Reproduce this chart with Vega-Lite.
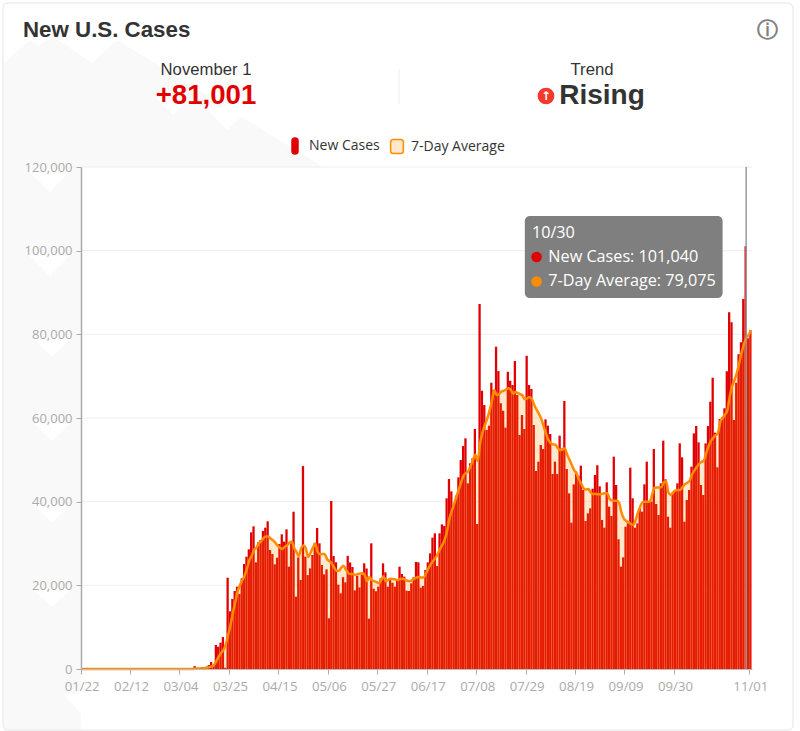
{"$schema":"https://vega.github.io/schema/vega-lite/v6.json","width":671,"height":502,"autosize":{"type":"none"},"padding":{"left":81,"top":167,"right":48,"bottom":62},"background":"white","view":{"stroke":null},"config":{"font":"Open Sans","axisY":{"format":",","labelExpr":"format(datum.value,',')"}},"datasets":{"daily":[
{"date":"01/22","cases":0,"avg":0},{"date":"01/23","cases":0,"avg":0},{"date":"01/24","cases":0,"avg":0},{"date":"01/25","cases":0,"avg":0},{"date":"01/26","cases":0,"avg":0},{"date":"01/27","cases":0,"avg":0},{"date":"01/28","cases":0,"avg":0},{"date":"01/29","cases":0,"avg":0},{"date":"01/30","cases":0,"avg":0},{"date":"01/31","cases":0,"avg":0},
{"date":"02/01","cases":0,"avg":0},{"date":"02/02","cases":0,"avg":0},{"date":"02/03","cases":0,"avg":0},{"date":"02/04","cases":0,"avg":0},{"date":"02/05","cases":0,"avg":0},{"date":"02/06","cases":0,"avg":0},{"date":"02/07","cases":0,"avg":0},{"date":"02/08","cases":0,"avg":0},{"date":"02/09","cases":0,"avg":0},{"date":"02/10","cases":0,"avg":0},{"date":"02/11","cases":0,"avg":0},{"date":"02/12","cases":0,"avg":0},{"date":"02/13","cases":0,"avg":0},{"date":"02/14","cases":0,"avg":0},{"date":"02/15","cases":0,"avg":0},{"date":"02/16","cases":0,"avg":0},{"date":"02/17","cases":0,"avg":0},{"date":"02/18","cases":0,"avg":0},{"date":"02/19","cases":0,"avg":0},{"date":"02/20","cases":0,"avg":0},{"date":"02/21","cases":0,"avg":0},{"date":"02/22","cases":0,"avg":0},{"date":"02/23","cases":0,"avg":0},{"date":"02/24","cases":0,"avg":0},{"date":"02/25","cases":0,"avg":0},{"date":"02/26","cases":0,"avg":0},{"date":"02/27","cases":0,"avg":0},{"date":"02/28","cases":0,"avg":0},{"date":"02/29","cases":0,"avg":0},
{"date":"03/01","cases":0,"avg":0},{"date":"03/02","cases":0,"avg":0},{"date":"03/03","cases":0,"avg":0},{"date":"03/04","cases":0,"avg":0},{"date":"03/05","cases":0,"avg":0},{"date":"03/06","cases":0,"avg":0},{"date":"03/07","cases":0,"avg":0},{"date":"03/08","cases":0,"avg":0},{"date":"03/09","cases":0,"avg":0},{"date":"03/10","cases":700,"avg":100},{"date":"03/11","cases":150,"avg":120},{"date":"03/12","cases":250,"avg":130},{"date":"03/13","cases":400,"avg":150},{"date":"03/14","cases":450,"avg":200},{"date":"03/15","cases":550,"avg":300},{"date":"03/16","cases":950,"avg":450},{"date":"03/17","cases":1670,"avg":600},{"date":"03/18","cases":950,"avg":950},{"date":"03/19","cases":5740,"avg":1900},{"date":"03/20","cases":5340,"avg":2950},{"date":"03/21","cases":6300,"avg":3900},{"date":"03/22","cases":7650,"avg":4500},{"date":"03/23","cases":300,"avg":5900},{"date":"03/24","cases":21830,"avg":8100},{"date":"03/25","cases":13800,"avg":10500},{"date":"03/26","cases":16730,"avg":13400},{"date":"03/27","cases":18650,"avg":15900},{"date":"03/28","cases":19680,"avg":18500},{"date":"03/29","cases":17930,"avg":20000},{"date":"03/30","cases":21670,"avg":21200},{"date":"03/31","cases":25100,"avg":22300},
{"date":"04/01","cases":26850,"avg":24000},{"date":"04/02","cases":28600,"avg":26000},{"date":"04/03","cases":32670,"avg":27000},{"date":"04/04","cases":34100,"avg":28500},{"date":"04/05","cases":25500,"avg":29000},{"date":"04/06","cases":30280,"avg":30000},{"date":"04/07","cases":30840,"avg":30500},{"date":"04/08","cases":32990,"avg":31300},{"date":"04/09","cases":33780,"avg":31700},{"date":"04/10","cases":35300,"avg":31700},{"date":"04/11","cases":28450,"avg":31200},{"date":"04/12","cases":27490,"avg":30800},{"date":"04/13","cases":25020,"avg":30200},{"date":"04/14","cases":26610,"avg":29500},{"date":"04/15","cases":29880,"avg":29000},{"date":"04/16","cases":32190,"avg":28700},{"date":"04/17","cases":30440,"avg":29200},{"date":"04/18","cases":33390,"avg":29500},{"date":"04/19","cases":24460,"avg":30200},{"date":"04/20","cases":30040,"avg":30500},{"date":"04/21","cases":37600,"avg":29000},{"date":"04/22","cases":17290,"avg":28000},{"date":"04/23","cases":26690,"avg":27000},{"date":"04/24","cases":21270,"avg":28800},{"date":"04/25","cases":48530,"avg":29500},{"date":"04/26","cases":26850,"avg":28800},{"date":"04/27","cases":22450,"avg":26800},{"date":"04/28","cases":24060,"avg":27800},{"date":"04/29","cases":27250,"avg":29000},{"date":"04/30","cases":30040,"avg":30000},
{"date":"05/01","cases":33700,"avg":28000},{"date":"05/02","cases":30040,"avg":27500},{"date":"05/03","cases":24860,"avg":27500},{"date":"05/04","cases":22630,"avg":27500},{"date":"05/05","cases":23820,"avg":26300},{"date":"05/06","cases":12110,"avg":25800},{"date":"05/07","cases":40160,"avg":25200},{"date":"05/08","cases":27010,"avg":24300},{"date":"05/09","cases":25500,"avg":23500},{"date":"05/10","cases":20160,"avg":23500},{"date":"05/11","cases":18090,"avg":24200},{"date":"05/12","cases":21950,"avg":24700},{"date":"05/13","cases":20720,"avg":23800},{"date":"05/14","cases":27050,"avg":23000},{"date":"05/15","cases":25460,"avg":22700},{"date":"05/16","cases":24380,"avg":22700},{"date":"05/17","cases":18800,"avg":22500},{"date":"05/18","cases":22270,"avg":22700},{"date":"05/19","cases":19520,"avg":22800},{"date":"05/20","cases":22550,"avg":22900},{"date":"05/21","cases":25260,"avg":22500},{"date":"05/22","cases":24020,"avg":21000},{"date":"05/23","cases":12030,"avg":22000},{"date":"05/24","cases":30040,"avg":21300},{"date":"05/25","cases":19200,"avg":21000},{"date":"05/26","cases":18600,"avg":20800},{"date":"05/27","cases":19700,"avg":20500},{"date":"05/28","cases":21670,"avg":21200},{"date":"05/29","cases":25260,"avg":22200},{"date":"05/30","cases":23110,"avg":21000},{"date":"05/31","cases":19680,"avg":21300},
{"date":"06/01","cases":21270,"avg":21600},{"date":"06/02","cases":20640,"avg":21500},{"date":"06/03","cases":19680,"avg":21400},{"date":"06/04","cases":21110,"avg":21300},{"date":"06/05","cases":24460,"avg":21500},{"date":"06/06","cases":22710,"avg":21600},{"date":"06/07","cases":22070,"avg":21400},{"date":"06/08","cases":18720,"avg":21100},{"date":"06/09","cases":18650,"avg":21000},{"date":"06/10","cases":20480,"avg":21200},{"date":"06/11","cases":21910,"avg":21500},{"date":"06/12","cases":25580,"avg":21900},{"date":"06/13","cases":25500,"avg":22000},{"date":"06/14","cases":19440,"avg":21900},{"date":"06/15","cases":19840,"avg":21900},{"date":"06/16","cases":23660,"avg":22800},{"date":"06/17","cases":25500,"avg":24000},{"date":"06/18","cases":27650,"avg":25000},{"date":"06/19","cases":31400,"avg":25800},{"date":"06/20","cases":32430,"avg":26500},{"date":"06/21","cases":24620,"avg":27500},{"date":"06/22","cases":32430,"avg":28700},{"date":"06/23","cases":34580,"avg":29700},{"date":"06/24","cases":34180,"avg":31000},{"date":"06/25","cases":40800,"avg":33000},{"date":"06/26","cases":45420,"avg":36000},{"date":"06/27","cases":42470,"avg":37800},{"date":"06/28","cases":39200,"avg":39500},{"date":"06/29","cases":41430,"avg":41300},{"date":"06/30","cases":45820,"avg":43000},
{"date":"07/01","cases":49960,"avg":44700},{"date":"07/02","cases":53300,"avg":46300},{"date":"07/03","cases":55140,"avg":46800},{"date":"07/04","cases":44380,"avg":47300},{"date":"07/05","cases":49160,"avg":48600},{"date":"07/06","cases":50360,"avg":50000},{"date":"07/07","cases":57370,"avg":51200},{"date":"07/08","cases":34660,"avg":49700},{"date":"07/09","cases":87250,"avg":53900},{"date":"07/10","cases":66530,"avg":56500},{"date":"07/11","cases":63100,"avg":58300},{"date":"07/12","cases":57130,"avg":59800},{"date":"07/13","cases":58170,"avg":61700},{"date":"07/14","cases":68440,"avg":64000},{"date":"07/15","cases":66690,"avg":66700},{"date":"07/16","cases":77050,"avg":65500},{"date":"07/17","cases":71230,"avg":65700},{"date":"07/18","cases":63500,"avg":66300},{"date":"07/19","cases":61750,"avg":66500},{"date":"07/20","cases":57690,"avg":66800},{"date":"07/21","cases":71070,"avg":67100},{"date":"07/22","cases":68920,"avg":66800},{"date":"07/23","cases":67890,"avg":65800},{"date":"07/24","cases":73620,"avg":66200},{"date":"07/25","cases":65500,"avg":66000},{"date":"07/26","cases":55940,"avg":65700},{"date":"07/27","cases":60720,"avg":65400},{"date":"07/28","cases":57370,"avg":64500},{"date":"07/29","cases":74900,"avg":64700},{"date":"07/30","cases":67890,"avg":65000},{"date":"07/31","cases":66930,"avg":64500},
{"date":"08/01","cases":58330,"avg":63100},{"date":"08/02","cases":47330,"avg":62000},{"date":"08/03","cases":49560,"avg":61000},{"date":"08/04","cases":53550,"avg":59800},{"date":"08/05","cases":52590,"avg":58000},{"date":"08/06","cases":59680,"avg":56300},{"date":"08/07","cases":58170,"avg":54800},{"date":"08/08","cases":56170,"avg":54000},{"date":"08/09","cases":46610,"avg":53700},{"date":"08/10","cases":49560,"avg":53600},{"date":"08/11","cases":46610,"avg":52800},{"date":"08/12","cases":55780,"avg":52300},{"date":"08/13","cases":52190,"avg":52600},{"date":"08/14","cases":64060,"avg":52700},{"date":"08/15","cases":47810,"avg":51200},{"date":"08/16","cases":41990,"avg":50000},{"date":"08/17","cases":34980,"avg":48700},{"date":"08/18","cases":44140,"avg":47500},{"date":"08/19","cases":47170,"avg":46700},{"date":"08/20","cases":46130,"avg":45300},{"date":"08/21","cases":48600,"avg":44300},{"date":"08/22","cases":42790,"avg":43200},{"date":"08/23","cases":35380,"avg":42900},{"date":"08/24","cases":37210,"avg":43000},{"date":"08/25","cases":38400,"avg":42200},{"date":"08/26","cases":43100,"avg":41800},{"date":"08/27","cases":46370,"avg":41900},{"date":"08/28","cases":48700,"avg":41800},{"date":"08/29","cases":43660,"avg":41800},{"date":"08/30","cases":35620,"avg":41900},{"date":"08/31","cases":33780,"avg":42000},
{"date":"09/01","cases":44620,"avg":42000},{"date":"09/02","cases":38800,"avg":40700},{"date":"09/03","cases":36570,"avg":40300},{"date":"09/04","cases":50760,"avg":40200},{"date":"09/05","cases":43980,"avg":40200},{"date":"09/06","cases":31000,"avg":39800},{"date":"09/07","cases":24460,"avg":37500},{"date":"09/08","cases":26690,"avg":36000},{"date":"09/09","cases":34020,"avg":35400},{"date":"09/10","cases":34820,"avg":35100},{"date":"09/11","cases":48130,"avg":34700},{"date":"09/12","cases":40800,"avg":34400},{"date":"09/13","cases":33780,"avg":35500},{"date":"09/14","cases":34820,"avg":37300},{"date":"09/15","cases":38410,"avg":38800},{"date":"09/16","cases":37610,"avg":39900},{"date":"09/17","cases":44140,"avg":40000},{"date":"09/18","cases":49560,"avg":40000},{"date":"09/19","cases":40000,"avg":40000},{"date":"09/20","cases":40000,"avg":41500},{"date":"09/21","cases":52590,"avg":43300},{"date":"09/22","cases":39440,"avg":43400},{"date":"09/23","cases":36810,"avg":43400},{"date":"09/24","cases":44380,"avg":43500},{"date":"09/25","cases":54580,"avg":44600},{"date":"09/26","cases":45340,"avg":44900},{"date":"09/27","cases":36410,"avg":42200},{"date":"09/28","cases":33780,"avg":41600},{"date":"09/29","cases":41990,"avg":42200},{"date":"09/30","cases":42790,"avg":42700},
{"date":"10/01","cases":44380,"avg":42800},{"date":"10/02","cases":53940,"avg":42800},{"date":"10/03","cases":50600,"avg":43500},{"date":"10/04","cases":35220,"avg":44200},{"date":"10/05","cases":40400,"avg":44500},{"date":"10/06","cases":42790,"avg":45000},{"date":"10/07","cases":48370,"avg":46500},{"date":"10/08","cases":56330,"avg":47400},{"date":"10/09","cases":58090,"avg":48300},{"date":"10/10","cases":54180,"avg":49000},{"date":"10/11","cases":43980,"avg":49500},{"date":"10/12","cases":41590,"avg":49800},{"date":"10/13","cases":53940,"avg":51500},{"date":"10/14","cases":58090,"avg":53200},{"date":"10/15","cases":63900,"avg":54500},{"date":"10/16","cases":69640,"avg":55200},{"date":"10/17","cases":56490,"avg":55900},{"date":"10/18","cases":48210,"avg":56300},{"date":"10/19","cases":59760,"avg":59100},{"date":"10/20","cases":60160,"avg":60000},{"date":"10/21","cases":62310,"avg":60800},{"date":"10/22","cases":71150,"avg":61800},{"date":"10/23","cases":85260,"avg":65000},{"date":"10/24","cases":82870,"avg":67500},{"date":"10/25","cases":59520,"avg":69000},{"date":"10/26","cases":68440,"avg":70700},{"date":"10/27","cases":75220,"avg":73000},{"date":"10/28","cases":78090,"avg":75500},{"date":"10/29","cases":88440,"avg":77500},{"date":"10/30","cases":101040,"avg":79075},{"date":"10/31","cases":79040,"avg":79800},{"date":"11/01","cases":81001,"avg":81000}
],
"gridLevels":[{"level":20000},{"level":40000},{"level":60000},{"level":80000},{"level":100000},{"level":120000}],
"tipBox":[{"date":"07/28","dateEnd":"10/20","high":108300,"low":88700}],
"tipText":[{"date":"07/31","level":104220,"label":"10/30"},{"date":"08/07","level":98480,"label":"New Cases: 101,040"},{"date":"08/07","level":92630,"label":"7-Day Average: 79,075"}],
"tipDots":[{"date":"08/02","level":98480,"series":"New Cases"},{"date":"08/02","level":92630,"series":"7-Day Average"}],
"hover":[{"date":"10/30"}],
"mountain":[{"px":4,"py":63,"base":167},{"px":30,"py":40,"base":167},{"px":38,"py":46,"base":167},{"px":47,"py":40,"base":167},{"px":58,"py":40,"base":167},{"px":92,"py":63,"base":167},{"px":117,"py":40,"base":167},{"px":323,"py":167,"base":167}],
"strip":[{"px":4,"px2":81,"py":167,"py2":731}],
"notches":[{"n":"a","px":27,"py":169,"base":169},{"n":"a","px":50,"py":192,"base":169},{"n":"a","px":72,"py":169,"base":169},{"n":"b","px":27,"py":253,"base":253},{"n":"b","px":50,"py":276,"base":253},{"n":"b","px":72,"py":253,"base":253},{"n":"c","px":32,"py":337,"base":337},{"n":"c","px":52,"py":357,"base":337},{"n":"c","px":72,"py":337,"base":337},{"n":"d","px":32,"py":421,"base":421},{"n":"d","px":52,"py":441,"base":421},{"n":"d","px":72,"py":421,"base":421},{"n":"e","px":32,"py":504,"base":504},{"n":"e","px":52,"py":523,"base":504},{"n":"e","px":72,"py":504,"base":504},{"n":"f","px":32,"py":588,"base":588},{"n":"f","px":52,"py":607,"base":588},{"n":"f","px":72,"py":588,"base":588},{"n":"g","px":63,"py":694,"base":694},{"n":"g","px":81,"py":713,"base":694},{"n":"h","px":156,"py":98,"base":98},{"n":"h","px":173,"py":115,"base":98},{"n":"h","px":190,"py":98,"base":98},{"n":"i","px":205,"py":107,"base":107},{"n":"i","px":227,"py":130,"base":107},{"n":"i","px":250,"py":107,"base":107}],
"card":[{"px":3,"px2":793,"py":3,"py2":730}],
"header":[{"col":"left","line":"label","text":"November 1"},{"col":"right","line":"label","text":"Trend"}]
},
"resolve":{"scale":{"x":"independent","y":"independent"}},
"layer":[
{"layer":[
{"data":{"name":"strip"},"mark":{"type":"rect","color":"#f9f9f9"},"encoding":{"x":{"field":"px","type":"quantitative","axis":null,"scale":{"domain":[0,800],"range":[-81,719],"nice":false,"zero":false}},"x2":{"field":"px2"},"y":{"field":"py","type":"quantitative","axis":null,"scale":{"domain":[0,731],"range":[-167,564],"nice":false,"zero":false}},"y2":{"field":"py2"}}},
{"data":{"name":"mountain"},"mark":{"type":"area","color":"#f9f9f9","opacity":1},"encoding":{"x":{"field":"px","type":"quantitative","axis":null,"scale":{"domain":[0,800],"range":[-81,719],"nice":false,"zero":false}},"y":{"field":"py","type":"quantitative","axis":null,"scale":{"domain":[0,731],"range":[-167,564],"nice":false,"zero":false}},"y2":{"field":"base"}}},
{"data":{"name":"notches"},"mark":{"type":"area","color":"#ffffff","opacity":1},"encoding":{"detail":{"field":"n"},"x":{"field":"px","type":"quantitative","axis":null,"scale":{"domain":[0,800],"range":[-81,719],"nice":false,"zero":false}},"y":{"field":"py","type":"quantitative","axis":null,"scale":{"domain":[0,731],"range":[-167,564],"nice":false,"zero":false}},"y2":{"field":"base"}}},
{"data":{"name":"card"},"mark":{"type":"rect","fillOpacity":0,"stroke":"#eeeeee","strokeWidth":1.5,"cornerRadius":5},"encoding":{"x":{"field":"px","type":"quantitative","axis":null,"scale":{"domain":[0,800],"range":[-81,719],"nice":false,"zero":false}},"x2":{"field":"px2"},"y":{"field":"py","type":"quantitative","axis":null,"scale":{"domain":[0,731],"range":[-167,564],"nice":false,"zero":false}},"y2":{"field":"py2"}}}
]},
{"encoding":{"x":{"field":"date","type":"ordinal","title":null,"sort":null,"scale":{"type":"band","paddingInner":0.03,"paddingOuter":0},"axis":{"values":["01/22","02/12","03/04","03/25","04/15","05/06","05/27","06/17","07/08","07/29","08/19","09/09","09/30","11/01"],"bandPosition":0,"labelAngle":0,"labelFontSize":13.2,"labelColor":"#aaaaaa","labelFont":"Open Sans","labelPadding":6,"tickColor":"#aaaaaa","tickSize":5,"domainColor":"#bbbbbb","grid":false,"labelOverlap":false,"zindex":1}}},
"layer":[
{"data":{"name":"gridLevels"},"mark":{"type":"rule","color":"#eeeeee"},"encoding":{"x":null,"y":{"field":"level","type":"quantitative"}}},
{"data":{"name":"daily"},"mark":{"type":"bar","xOffset":-0.5},"encoding":{"y":{"field":"cases","type":"quantitative","title":null,"scale":{"domain":[0,120000],"nice":false},"axis":{"values":[0,20000,40000,60000,80000,100000,120000],"format":",","labelExpr":"format(datum.value,',')","labelFontSize":13,"labelColor":"#aaaaaa","labelFont":"Open Sans","labelPadding":4,"tickColor":"#aaaaaa","tickSize":5,"domainColor":"#aaaaaa","domainWidth":1.5,"grid":false,"zindex":1}},"fill":{"datum":"New Cases","scale":{"domain":["New Cases","7-Day Average"],"range":["#e00000","rgba(255,140,0,0.2)"]},"legend":{"title":null,"orient":"none","legendX":205,"legendY":-30,"direction":"horizontal","columns":2,"columnPadding":7,"symbolSize":256,"labelFontSize":14,"labelFont":"Open Sans","labelColor":"#333333","labelOffset":5,"encoding":{"symbols":{"shape":{"value":{"expr":"datum.value==='New Cases'?'M-0.375,-0.625A0.375,0.375,0,0,1,0.375,-0.625V0.625A0.375,0.375,0,0,1,-0.375,0.625Z':'M-.45,-.875H.45A.35,.35,0,0,1,.8,-.525V.525A.35,.35,0,0,1,.45,.875H-.45A.35,.35,0,0,1,-.8,.525V-.525A.35,.35,0,0,1,-.45,-.875Z'"}},"stroke":{"value":{"expr":"datum.value==='New Cases'?'#e00000':'#ff8c00'"}},"strokeWidth":{"value":1.5},"opacity":{"value":1}}}}}}},
{"data":{"name":"daily"},"mark":{"type":"area","opacity":1,"interpolate":"monotone"},"encoding":{"y":{"field":"avg","type":"quantitative"},"fill":{"datum":"7-Day Average"}}},
{"data":{"name":"daily"},"mark":{"type":"line","color":"#ff8c00","strokeWidth":2.5,"interpolate":"monotone"},"encoding":{"y":{"field":"avg","type":"quantitative"}}},
{"data":{"name":"hover"},"mark":{"type":"rule","color":"#999999","strokeWidth":1.5},"encoding":{}},
{"data":{"name":"tipBox"},"mark":{"type":"rect","color":"#7f7f7f","cornerRadius":5,"opacity":1},"encoding":{"x2":{"field":"dateEnd"},"y":{"field":"high","type":"quantitative"},"y2":{"field":"low"}}},
{"data":{"name":"tipDots"},"mark":{"type":"point","filled":true,"size":110,"opacity":1},"encoding":{"y":{"field":"level","type":"quantitative"},"color":{"field":"series","type":"nominal","legend":null,"scale":{"domain":["New Cases","7-Day Average"],"range":["#e00000","#ff8c00"]}}}},
{"data":{"name":"tipText"},"mark":{"type":"text","align":"left","baseline":"middle","color":"white","fontSize":16.2,"font":"Open Sans"},"encoding":{"y":{"field":"level","type":"quantitative"},"text":{"field":"label"}}}
]},
{"encoding":{"x":{"field":"col","type":"nominal","axis":null,"scale":{"type":"point","domain":["left","mid","right","far"],"range":[125,704],"padding":0}},"y":{"field":"line","type":"nominal","axis":null,"scale":{"type":"point","domain":["title","label","value"],"range":[-123,-71],"padding":0}}},
"layer":[
{"data":{"values":[{"col":"left","line":"title","text":"New U.S. Cases"}]},"mark":{"type":"text","align":"left","baseline":"middle","dx":-183,"dy":-14,"font":"Liberation Sans","fontWeight":"bold","fontSize":22.3,"color":"#333333"},"encoding":{"text":{"field":"text"}}},
{"data":{"values":[{"col":"far","line":"title","text":"ⓘ"}]},"mark":{"type":"text","baseline":"middle","dx":-18,"dy":-13,"font":"DejaVu Sans","fontSize":21,"fontWeight":"bold","color":"#808080"},"encoding":{"text":{"field":"text"}}},
{"data":{"name":"header"},"mark":{"type":"text","baseline":"middle","font":"Liberation Sans","fontSize":16.7,"color":"#333333"},"encoding":{"text":{"field":"text"}}},
{"data":{"values":[{"col":"left","line":"value","text":"+81,001"}]},"mark":{"type":"text","baseline":"middle","font":"Liberation Sans","fontWeight":"bold","fontSize":27.6,"color":"#e00000"},"encoding":{"text":{"field":"text"}}},
{"data":{"values":[{"col":"right","line":"value","text":"Rising"}]},"mark":{"type":"text","baseline":"middle","dx":10,"font":"Liberation Sans","fontWeight":"bold","fontSize":28,"color":"#333333"},"encoding":{"text":{"field":"text"}}},
{"data":{"values":[{"col":"right","line":"value"}]},"mark":{"type":"point","filled":true,"size":280,"color":"#f4392d","opacity":1,"xOffset":-46},"encoding":{}},
{"data":{"values":[{"col":"right","line":"value","text":"↑"}]},"mark":{"type":"text","baseline":"middle","dx":-46,"font":"DejaVu Sans","fontWeight":"bold","fontSize":12,"color":"white"},"encoding":{"text":{"field":"text"}}},
{"data":{"values":[{"col":"mid","line":"label","lineEnd":"value"}]},"mark":{"type":"rule","color":"#eeeeee","yOffset":-1,"y2Offset":8},"encoding":{"y2":{"field":"lineEnd"}}}
]}
]}
